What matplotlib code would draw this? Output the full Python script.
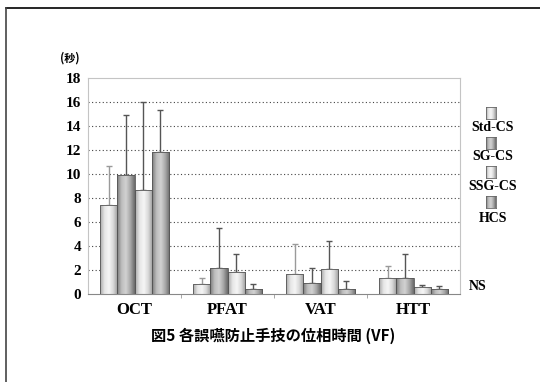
import numpy as np
import matplotlib
matplotlib.use("Agg")
import matplotlib.pyplot as plt
from matplotlib.patches import Rectangle
from matplotlib.colors import LinearSegmentedColormap
from matplotlib.lines import Line2D

categories = ["OCT", "PFAT", "VAT", "HTT"]
series = ["Std-CS", "SG-CS", "SSG-CS", "HCS"]
std_cs = [7.4, 0.8, 1.7, 1.3]
sg_cs = [9.9, 2.2, 0.9, 1.3]
ssg_cs = [8.7, 1.8, 2.1, 0.55]
hcs = [11.8, 0.4, 0.4, 0.45]
std_cs_top = [10.7, 1.3, 4.2, 2.35]
sg_cs_top = [14.9, 5.5, 2.2, 3.3]
ssg_cs_top = [16.0, 3.3, 4.4, 0.72]
hcs_top = [15.3, 0.8, 1.1, 0.64]
yticks = [0, 2, 4, 6, 8, 10, 12, 14, 16, 18]

means = [std_cs, sg_cs, ssg_cs, hcs]
tops = [std_cs_top, sg_cs_top, ssg_cs_top, hcs_top]

serif = "Liberation Serif"
cjk = ["Noto Sans CJK JP", "DejaVu Sans"]

light = LinearSegmentedColormap.from_list(
    "light", ["#a8a8a8", "#e6e6e6", "#f6f6f6", "#d8d8d8", "#9a9a9a"])
dark = LinearSegmentedColormap.from_list(
    "dark", ["#7a7a7a", "#bdbdbd", "#d2d2d2", "#a8a8a8", "#6a6a6a"])
cmaps = [light, dark, light, dark]
err_colors = ["#9a9a9a", "#555555", "#555555", "#555555"]

grad = np.linspace(0, 1, 64).reshape(1, -1)

fig = plt.figure(figsize=(5.4, 3.82), dpi=100)

# outer frame lines (top and left)
fig.add_artist(Line2D([6 / 540, 1.0], [1 - 8 / 382] * 2, color="black", lw=1.2))
fig.add_artist(Line2D([6 / 540] * 2, [0, 1 - 8 / 382], color="#444444", lw=1.2))

ax = fig.add_axes([88 / 540, 1 - 294 / 382, 372 / 540, 216 / 382])

x = np.arange(len(categories))
w = 0.183
for i, (vals, top) in enumerate(zip(means, tops)):
    xs = x + (i - 1.5) * w
    for xi, v in zip(xs, vals):
        rect = Rectangle((xi - w / 2, 0), w, v, facecolor="none",
                         edgecolor="#555555", lw=0.6, zorder=3)
        ax.add_patch(rect)
        im = ax.imshow(grad, cmap=cmaps[i], aspect="auto",
                       extent=[xi - w / 2, xi + w / 2, 0, v], zorder=2)
        im.set_clip_path(rect)
    upper = np.array(top) - np.array(vals)
    ax.errorbar(xs, vals, yerr=[np.zeros(len(vals)), upper], fmt="none",
                ecolor=err_colors[i], elinewidth=1.0, capsize=2.5,
                capthick=1.0, zorder=1)

ax.set_xlim(-0.5, 3.5)
ax.set_ylim(0, 18)
ax.set_yticks(yticks)
ax.set_yticklabels([str(t) for t in yticks], fontfamily=serif,
                   fontweight="bold", fontsize=11)
ax.tick_params(axis="y", length=0, pad=5)
ax.set_xticks(x)
ax.set_xticklabels(categories, fontfamily=serif, fontweight="bold", fontsize=12)
ax.set_xticks(np.arange(0.5, 3.5, 1.0), minor=True)
ax.tick_params(axis="x", which="major", length=0, pad=6)
ax.tick_params(axis="x", which="minor", length=3, color="#999999")
for t in yticks[1:-1]:
    ax.axhline(t, color="#444444", lw=0.8, ls=(0, (1, 2.2)), zorder=0)
for side in ["top", "right", "left"]:
    ax.spines[side].set_color("#c4c4c4")
    ax.spines[side].set_linewidth(0.8)
ax.spines["bottom"].set_color("#888888")
ax.spines["bottom"].set_linewidth(0.8)

# legend column on the right
patch_y = [113, 143, 172, 202]
label_y = [127, 157, 187, 218]
for i, name in enumerate(series):
    pax = fig.add_axes([486 / 540, 1 - (patch_y[i] + 6) / 382, 10 / 540, 12 / 382])
    pax.imshow(grad, cmap=cmaps[i], aspect="auto", extent=[0, 1, 0, 1])
    pax.set_xticks([])
    pax.set_yticks([])
    for s in pax.spines.values():
        s.set_color("#666666")
        s.set_linewidth(0.6)
    fig.text(493 / 540, 1 - label_y[i] / 382, name, ha="center", va="center",
             fontfamily=serif, fontweight="bold", fontsize=10)

fig.text(469 / 540, 1 - 287 / 382, "NS", ha="left", va="center",
         fontfamily=serif, fontweight="bold", fontsize=10)
fig.text(60 / 540, 1 - 58 / 382, "(秒)", ha="left", va="center",
         family=cjk, fontweight="bold", fontsize=8)
fig.text(273 / 540, 1 - 336 / 382, "図5 各誤嚥防止手技の位相時間 (VF)",
         ha="center", va="center", family=cjk, fontweight="bold", fontsize=11)

fig.savefig("out.png", dpi=100)
